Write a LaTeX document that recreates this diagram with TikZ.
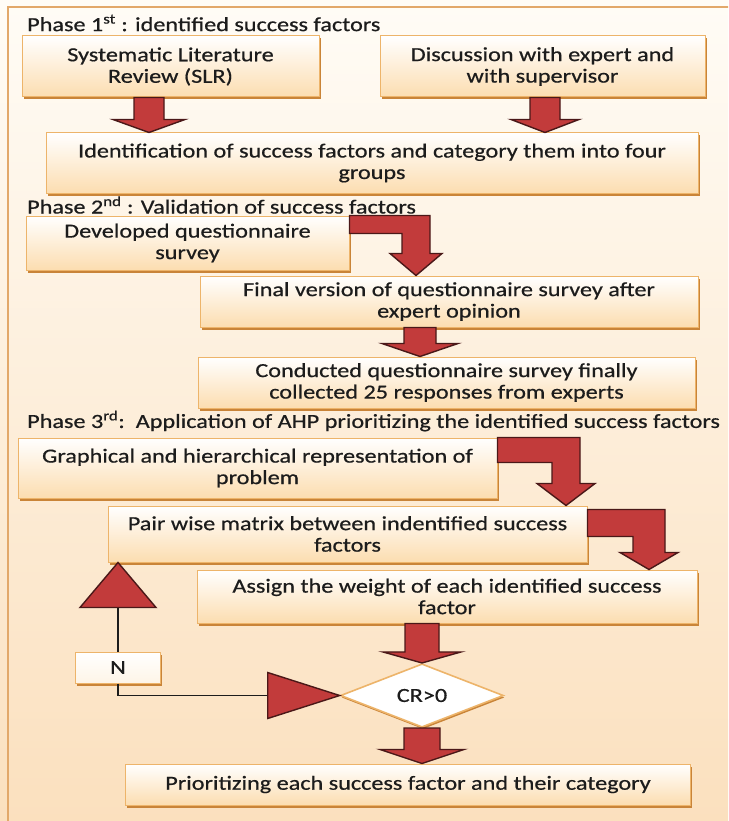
\documentclass[tikz,border=0pt]{standalone}
\usepackage{fontspec}
\setmainfont{Carlito}[FakeStretch=1.21,FakeBold=0.6]
\usetikzlibrary{calc,shapes.geometric,shadows}

\definecolor{bgtop}{HTML}{FFFCF6}
\definecolor{bgbot}{HTML}{FBE0BE}
\definecolor{frameline}{HTML}{E2A86A}
\definecolor{boxline}{HTML}{EDB46A}
\definecolor{boxfill}{HTML}{FCDDB0}
\definecolor{boxshadow}{HTML}{C98438}
\definecolor{arrowfill}{HTML}{C23B3B}
\definecolor{arrowline}{HTML}{4A1818}
\definecolor{textcol}{HTML}{1C1C1C}

\newcommand{\boxfont}{\fontsize{20}{21.5}\selectfont}

% straight block arrow: shaft top, tip, shaft half width, head half width, head length
\newcommand{\blockdown}[5]{%
  \draw[blockarrow] ($(#1)+(-#3,0)$) -- ($(#2)+(-#3,-#5)$) -- ($(#2)+(-#4,-#5)$)
    -- (#2) -- ($(#2)+(#4,-#5)$) -- ($(#2)+(#3,-#5)$) -- ($(#1)+(#3,0)$) -- cycle;}

% bent block arrow: bar start (top left), tip, bar height, shaft half width, head half width, head length
\newcommand{\blockelbow}[6]{%
  \draw[blockarrow] (#1) -- ($(#2 |- #1)+(#4,0)$) -- ($(#2)+(#4,-#6)$) -- ($(#2)+(#5,-#6)$)
    -- (#2) -- ($(#2)+(-#5,-#6)$) -- ($(#2)+(-#4,-#6)$) -- ($(#2 |- #1)+(-#4,#3)$)
    -- ($(#1)+(0,#3)$) -- cycle;}

\begin{document}
\begin{tikzpicture}[x=1pt,y=-1pt,
  box/.style={draw=boxline, line width=1pt, top color=white, bottom color=boxfill,
    general shadow={fill=boxshadow, shadow xshift=1.5pt, shadow yshift=-2.5pt},
    align=center, inner sep=0pt, text=textcol, font=\boxfont},
  phase/.style={anchor=west, inner sep=0pt, text=textcol, font=\boxfont},
  blockarrow/.style={fill=arrowfill, draw=arrowline, line width=1.4pt, line join=miter},
  fbline/.style={draw=textcol, line width=1.5pt}]

\useasboundingbox (0,0) rectangle (728,821);
\clip (0,0) rectangle (728,821);

% page background and frame
\shade[top color=bgtop, bottom color=bgbot] (0,0) rectangle (728,821);
\draw[frameline, line width=1.5pt] (8,7) rectangle (760,860);

% ---- Phase 1
\node[phase] (p1) at (27,23) {Phase 1\textsuperscript{st} : identified success factors};
\node[box, minimum width=297pt, minimum height=61pt] (slr) at (170.5,66.5)
  {Systematic Literature\\Review (SLR)};
\node[box, minimum width=325pt, minimum height=61pt] (disc) at (542.5,66.5)
  {Discussion with expert and\\with supervisor};
\node[box, minimum width=652pt, minimum height=60pt] (ident) at (372,163)
  {Identification of success factors and category them into four\\groups};

% ---- Phase 2
\node[phase] (p2) at (27,205) {Phase 2\textsuperscript{nd} : Validation of success factors};
\node[box, minimum width=323pt, minimum height=54pt] (dev) at (187.5,243)
  {Developed questionnaire\\survey};
\node[box, minimum width=498pt, minimum height=51pt] (final) at (449,301.5)
  {Final version of questionnaire survey after\\expert opinion};
\node[box, minimum width=497pt, minimum height=51pt] (cond) at (446.5,382.5)
  {Conducted questionnaire survey finally\\collected 25 responses from experts};

% ---- Phase 3
\node[phase] (p3) at (27,421) {Phase 3\textsuperscript{rd}:\ \ Application of AHP prioritizing the identified success factors};
\node[box, minimum width=479pt, minimum height=60pt] (graph) at (257.5,468)
  {Graphical and hierarchical representation of\\problem};
\node[box, minimum width=479pt, minimum height=56pt] (pair) at (347.5,534)
  {Pair wise matrix between indentified success\\factors};
\node[box, minimum width=500pt, minimum height=53pt] (assign) at (447,596.5)
  {Assign the weight of each identified success\\factor};
\node[diamond, draw=boxline, line width=1.6pt, fill=white, minimum width=163pt,
  minimum height=63pt, inner sep=0pt, text=textcol, font=\boxfont,
  general shadow={fill=boxshadow, shadow xshift=1pt, shadow yshift=-2pt}] (diam) at (422,695.5) {CR>0};
\node[box, minimum width=85pt, minimum height=31pt, bottom color=white!70!boxfill] (N) at (118,667.5) {N};
\node[box, minimum width=565pt, minimum height=41pt] (prior) at (408,784.5)
  {Prioritizing each success factor and their category};

% ---- block arrows
\coordinate (a1) at ($(slr.south)+(-21.5,0)$);
\coordinate (a2) at ($(disc.south)+(2.5,0)$);
\coordinate (a3) at ($(final.south)+(-29,0)$);
\blockdown{a1}{a1 |- ident.north}{15}{36}{13}
\blockdown{a2}{a2 |- ident.north}{15}{34}{13}
\blockdown{a3}{a3 |- cond.north}{16}{38}{13}
\blockdown{diam.north |- assign.south}{diam.north}{17}{39}{11}
\blockdown{diam.south}{diam.south |- prior.north}{18}{42}{14}

\coordinate (e1) at ($(final.north)+(-33,0)$);
\coordinate (e2) at ($(pair.north)+(218.5,0)$);
\coordinate (e3) at ($(assign.north)+(202,0)$);
\coordinate (e3s) at ($(pair.north east)+(0,4)$);
\blockelbow{dev.north east}{e1}{18}{14}{26}{22}
\blockelbow{graph.north east}{e2}{25}{14}{29}{22}
\blockelbow{e3s}{e3}{27}{16}{29}{17}

% ---- feedback loop from the check back to the matrix
\coordinate (rtb) at ($(diam.west)+(-72,0)$);
\coordinate (utb) at ($(N.north |- pair.south)+(0,45)$);
\draw[fbline] (N.south) |- (rtb);
\draw[fbline] (N.north) -- (utb);
\draw[blockarrow] (diam.west) -- ($(rtb)+(0,-23)$) -- ($(rtb)+(0,23)$) -- cycle;
\draw[blockarrow] (N.north |- pair.south) -- ($(utb)+(-38,0)$) -- ($(utb)+(38,0)$) -- cycle;

\end{tikzpicture}
\end{document}
